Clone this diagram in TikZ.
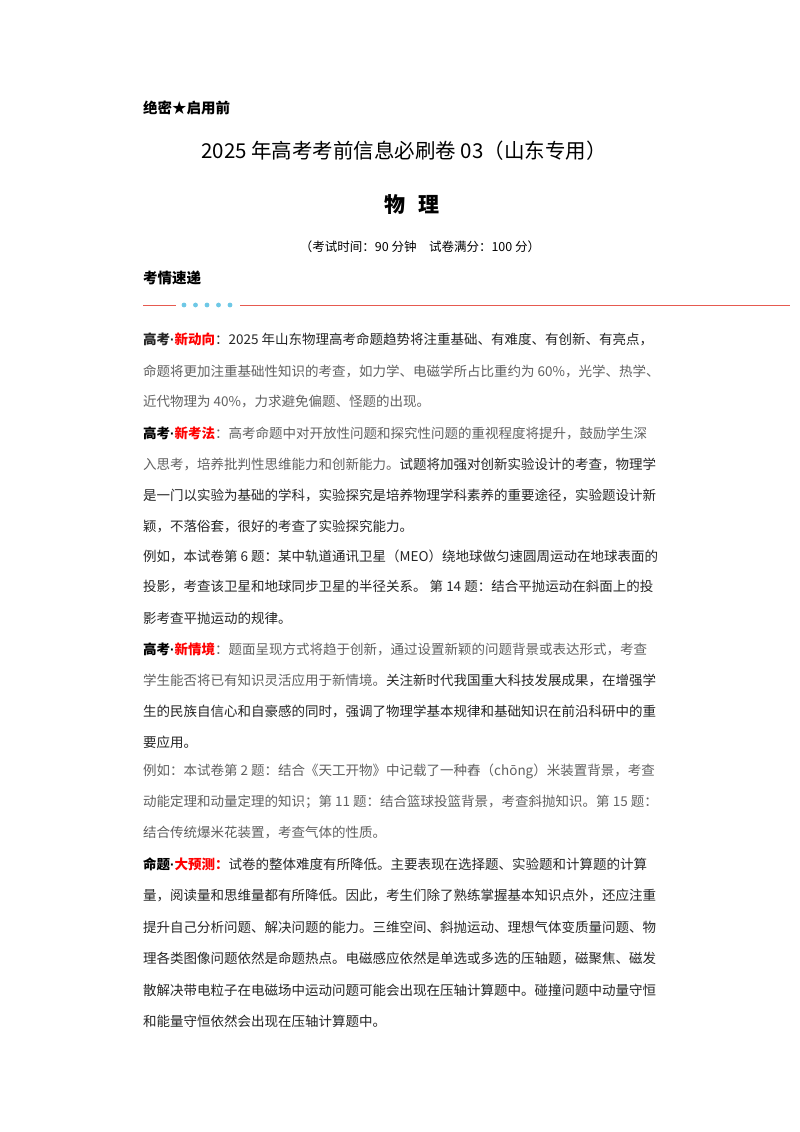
\documentclass[tikz,border=0pt]{standalone}
\usepackage{fontspec}
\setmainfont{Noto Sans CJK SC}
\newfontfamily\latf{Liberation Sans}
\newcommand{\md}{{\latf\bfseries ·}}
\begin{document}
\begin{tikzpicture}[x=1pt,y=-1pt,
  ln/.style={anchor=west,inner sep=0pt,font=\fontsize{13.5}{16}\selectfont,text=black!85},
  gr/.style={ln,text=black!62},
  hd/.style={inner sep=0pt,font=\bfseries\fontsize{14.5}{17}\selectfont}]
\useasboundingbox[fill=white] (0,0) rectangle (800,1132);
\definecolor{sepred}{RGB}{230,90,80}
\definecolor{sepdot}{RGB}{110,200,230}
\node[hd,anchor=west] (top) at (143,108) {绝密★启用前};
\node[inner sep=0pt,font=\fontsize{20.5}{23}\selectfont] (title) at (404,151) {2025 年高考考前信息必刷卷 03（山东专用）};
\node[inner sep=0pt,font=\bfseries\fontsize{21}{23}\selectfont] (subj) at (412,205) {物\hspace{0.6em}理};
\node[inner sep=0pt,font=\fontsize{12.5}{14}\selectfont] (time) at (420,247) {（考试时间：90 分钟\quad 试卷满分：100 分）};
\node[hd,anchor=west] (sec) at (143,278) {考情速递};
\coordinate (s1) at (143,305); \coordinate (s2) at (176,305);
\coordinate (s3) at (240,305); \coordinate (s4) at (790,305);
\draw[sepred,line width=0.9pt] (s1) -- (s2) (s3) -- (s4);
\foreach \i in {0,...,4} \fill[sepdot] (184+11.5*\i,305) circle (2.4);
\node[ln] (a1) at (143,339) {{\bfseries 高考}\md\textcolor{red}{\bfseries 新动向}：2025 年山东物理高考命题趋势将注重基础、有难度、有创新、有亮点，};
\node[gr] (a2) at (143,371) {命题将更加注重基础性知识的考查，如力学、电磁学所占比重约为 60\%，光学、热学、};
\node[gr] (a3) at (143,402) {近代物理为 40\%，力求避免偏题、怪题的出现。};
\node[gr] (b1) at (143,433) {\textcolor{black}{\bfseries 高考\md}\textcolor{red}{\bfseries 新考法}：高考命题中对开放性问题和探究性问题的重视程度将提升，鼓励学生深};
\node[gr] (b2) at (143,464) {入思考，培养批判性思维能力和创新能力。\textcolor{black!85}{试题将加强对创新实验设计的考查，物理学}};
\node[ln] (b3) at (143,495) {是一门以实验为基础的学科，实验探究是培养物理学科素养的重要途径，实验题设计新};
\node[ln] (b4) at (143,526) {颖，不落俗套，很好的考查了实验探究能力。};
\node[ln] (b5) at (143,556) {例如，本试卷第 6 题：某中轨道通讯卫星（MEO）绕地球做匀速圆周运动在地球表面的};
\node[ln] (b6) at (143,587) {投影，考查该卫星和地球同步卫星的半径关系。\ 第 14 题：结合平抛运动在斜面上的投};
\node[ln] (b7) at (143,618) {影考查平抛运动的规律。};
\node[gr] (c1) at (143,649) {\textcolor{black}{\bfseries 高考\md}\textcolor{red}{\bfseries 新情境}：题面呈现方式将趋于创新，通过设置新颖的问题背景或表达形式，考查};
\node[gr] (c2) at (143,680) {学生能否将已有知识灵活应用于新情境。\textcolor{black!85}{关注新时代我国重大科技发展成果，在增强学}};
\node[ln] (c3) at (143,711) {生的民族自信心和自豪感的同时，强调了物理学基本规律和基础知识在前沿科研中的重};
\node[ln] (c4) at (143,742) {要应用。};
\node[gr] (c5) at (143,771) {例如：本试卷第 2 题：结合《天工开物》中记载了一种舂（chōng）米装置背景，考查};
\node[gr] (c6) at (143,802) {动能定理和动量定理的知识；第 11 题：结合篮球投篮背景，考查斜抛知识。第 15 题：};
\node[gr] (c7) at (143,833) {结合传统爆米花装置，考查气体的性质。};
\node[ln] (d1) at (143,864) {\textcolor{black}{\bfseries 命题\md}\textcolor{red}{\bfseries 大预测：}试卷的整体难度有所降低。主要表现在选择题、实验题和计算题的计算};
\node[ln] (d2) at (143,895) {量，阅读量和思维量都有所降低。因此，考生们除了熟练掌握基本知识点外，还应注重};
\node[ln] (d3) at (143,927) {提升自己分析问题、解决问题的能力。三维空间、斜抛运动、理想气体变质量问题、物};
\node[ln] (d4) at (143,958) {理各类图像问题依然是命题热点。电磁感应依然是单选或多选的压轴题，磁聚焦、磁发};
\node[ln] (d5) at (143,990) {散解决带电粒子在电磁场中运动问题可能会出现在压轴计算题中。碰撞问题中动量守恒};
\node[ln] (d6) at (143,1021) {和能量守恒依然会出现在压轴计算题中。};
\end{tikzpicture}
\end{document}
